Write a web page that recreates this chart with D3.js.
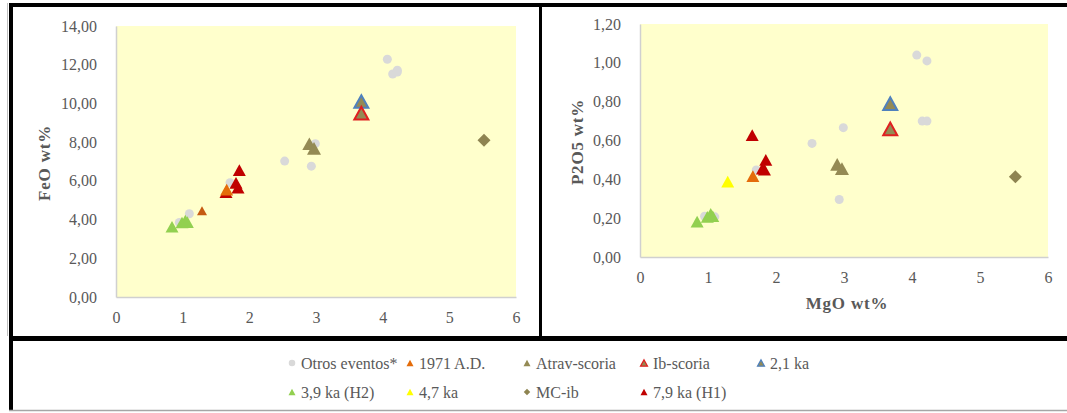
<!DOCTYPE html>
<html>
<head>
<meta charset="utf-8">
<script src="https://cdn.jsdelivr.net/npm/d3@7"></script>
<style>
  html, body { margin: 0; padding: 0; background: #fff; }
  svg { display: block; }
  text { font-family: "Liberation Serif", "Times New Roman", serif; }
</style>
</head>
<body>
<svg id="chart" width="1067" height="413"></svg>
<script>
// ---------------- DATA ----------------
const seriesNames = ["Otros eventos*", "1971 A.D.", "Atrav-scoria", "Ib-scoria", "2,1 ka",
                     "3,9 ka (H2)", "4,7 ka", "MC-ib", "7,9 ka (H1)"];

const otrosMgO  = [4.07, 4.22, 4.15, 4.22, 2.99, 2.53, 2.93, 1.71, 0.95, 1.10];
const otrosFeO  = [12.28, 11.72, 11.52, 11.62, 7.92, 7.02, 6.76, 5.90, 3.85, 4.30];
const otrosP2O5 = [1.04, 1.01, 0.70, 0.70, 0.666, 0.585, 0.296, 0.448, 0.21, 0.207];

const a1971MgO  = [1.66];
const a1971FeO  = [5.55];
const a1971P2O5 = [0.417];

const atravMgO  = [2.90, 2.97];
const atravFeO  = [7.92, 7.68];
const atravP2O5 = [0.477, 0.455];

const ibMgO  = [3.68];
const ibFeO  = [9.50];
const ibP2O5 = [0.66];

const ka21MgO  = [3.68];
const ka21FeO  = [10.10];
const ka21P2O5 = [0.79];

const ka39MgO  = [0.84, 0.99, 1.04, 1.07];
const ka39FeO  = [3.63, 3.85, 3.95, 3.87];
const ka39P2O5 = [0.182, 0.207, 0.222, 0.21];

const ka47MgO  = [1.29];
const ka47FeO  = [4.45];
const ka47P2O5 = [0.388];

const mcibMgO  = [5.52];
const mcibFeO  = [8.10];
const mcibP2O5 = [0.413];

const ka79MgO  = [1.65, 1.85, 1.80, 1.83];
const ka79FeO  = [5.42, 6.55, 5.90, 5.65];
const ka79P2O5 = [0.628, 0.50, 0.455, 0.45];

const feoTicks  = [0, 2, 4, 6, 8, 10, 12, 14];
const p2o5Ticks = [0, 0.2, 0.4, 0.6, 0.8, 1.0, 1.2];
const mgoTicks  = [0, 1, 2, 3, 4, 5, 6];

// ---------------- STYLES ----------------
const styles = {
  "Otros eventos*": {shape: "circle",  fill: "#D9D9D9", size: 9},
  "1971 A.D.":      {shape: "tri",     fill: "#E46C0A", size: 13},
  "Atrav-scoria":   {shape: "tri",     fill: "#948A54", size: 14},
  "Ib-scoria":      {shape: "tri",     fill: "#948A54", size: 14, stroke: "#E02020", sw: 2},
  "2,1 ka":         {shape: "tri",     fill: "#948A54", size: 14, stroke: "#4F81BD", sw: 2},
  "3,9 ka (H2)":    {shape: "tri",     fill: "#92D050", size: 13},
  "4,7 ka":         {shape: "tri",     fill: "#FFFF00", size: 13},
  "MC-ib":          {shape: "diamond", fill: "#8E8451", size: 13},
  "7,9 ka (H1)":    {shape: "tri",     fill: "#C00000", size: 13}
};
// the 4,7 ka marker is drawn smaller and darker orange in the FeO panel
const leftOverride = {"4,7 ka": {fill: "#C55A11", size: 10}};

const series = {
  "Otros eventos*": {x: otrosMgO, feo: otrosFeO, p: otrosP2O5},
  "1971 A.D.":      {x: a1971MgO, feo: a1971FeO, p: a1971P2O5},
  "Atrav-scoria":   {x: atravMgO, feo: atravFeO, p: atravP2O5},
  "Ib-scoria":      {x: ibMgO,    feo: ibFeO,    p: ibP2O5},
  "2,1 ka":         {x: ka21MgO,  feo: ka21FeO,  p: ka21P2O5},
  "3,9 ka (H2)":    {x: ka39MgO,  feo: ka39FeO,  p: ka39P2O5},
  "4,7 ka":         {x: ka47MgO,  feo: ka47FeO,  p: ka47P2O5},
  "MC-ib":          {x: mcibMgO,  feo: mcibFeO,  p: mcibP2O5},
  "7,9 ka (H1)":    {x: ka79MgO,  feo: ka79FeO,  p: ka79P2O5}
};
const drawOrder = ["Otros eventos*", "3,9 ka (H2)", "4,7 ka", "7,9 ka (H1)", "MC-ib",
                   "Atrav-scoria", "2,1 ka", "Ib-scoria", "1971 A.D."];

// ---------------- DRAW ----------------
const svg = d3.select("#chart");
const txtCol = "#595959";
const fmt = v => d3.format(".2f")(v).replace(".", ",");

function markerPath(shape, s) {
  const p = d3.path();
  if (shape === "tri") {
    const w = s, h = s * 0.9;
    p.moveTo(0, -h / 2); p.lineTo(w / 2, h / 2); p.lineTo(-w / 2, h / 2); p.closePath();
  } else if (shape === "diamond") {
    const r = s / 2;
    p.moveTo(0, -r); p.lineTo(r, 0); p.lineTo(0, r); p.lineTo(-r, 0); p.closePath();
  } else {
    p.arc(0, 0, s / 2, 0, 2 * Math.PI);
  }
  return p.toString();
}

function panel(cfg) {
  const x = d3.scaleLinear().domain([0, 6]).range([cfg.x0, cfg.x1]);
  const y = d3.scaleLinear().domain([0, cfg.ymax]).range([cfg.y0, cfg.y1]);
  const g = svg.append("g");
  g.append("rect").attr("x", cfg.x0).attr("y", cfg.y1)
    .attr("width", cfg.x1 - cfg.x0).attr("height", cfg.y0 - cfg.y1).attr("fill", "#FFFFCC");

  const ya = g.append("g").attr("transform", `translate(${cfg.x0},0)`)
    .call(d3.axisLeft(y).tickValues(cfg.yticks).tickFormat(fmt).tickSize(0).tickSizeOuter(0).tickPadding(19));
  const xa = g.append("g").attr("transform", `translate(0,${cfg.y0})`)
    .call(d3.axisBottom(x).tickValues(mgoTicks).tickFormat(d3.format("d")).tickSize(0).tickSizeOuter(0).tickPadding(15));
  [ya, xa].forEach(a => {
    a.select(".domain").attr("stroke", "#D0D0D0").attr("stroke-width", 1.5);
    a.selectAll("text").attr("fill", txtCol).style("font-size", "16px")
      .style("font-family", "'Liberation Serif', serif");
  });

  drawOrder.forEach(name => {
    const st = Object.assign({}, styles[name], (cfg.override || {})[name] || {});
    const s = series[name];
    const vals = s[cfg.key];
    const pts = s.x.map((mx, i) => [mx, vals[i]]);
    g.selectAll(null).data(pts).enter().append("path")
      .attr("transform", d => `translate(${x(d[0])},${y(d[1])})`)
      .attr("d", markerPath(st.shape, st.size))
      .attr("fill", st.fill)
      .attr("stroke", st.stroke || "none")
      .attr("stroke-width", st.sw || 0)
      .attr("stroke-linejoin", "miter");
  });

  g.append("text")
    .attr("transform", `translate(${cfg.tx},${cfg.ty}) rotate(-90)`)
    .attr("text-anchor", "middle").attr("dominant-baseline", "central")
    .attr("fill", txtCol).style("font-size", "17px").style("font-weight", "bold")
    .style("letter-spacing", "0.8px").text(cfg.ytitle);
  if (cfg.xtitle) {
    g.append("text").attr("x", cfg.xtx).attr("y", cfg.xty)
      .attr("text-anchor", "middle").attr("dominant-baseline", "central")
      .attr("fill", txtCol).style("font-size", "17px").style("font-weight", "bold")
      .style("letter-spacing", "0.8px").text(cfg.xtitle);
  }
}

panel({x0: 116, x1: 516, y0: 297, y1: 26, ymax: 14, yticks: feoTicks, key: "feo",
       ytitle: "FeO wt%", tx: 44, ty: 163, override: leftOverride});
panel({x0: 640, x1: 1048, y0: 257, y1: 24, ymax: 1.2, yticks: p2o5Ticks, key: "p",
       ytitle: "P2O5 wt%", tx: 577, ty: 142, xtitle: "MgO wt%", xtx: 847, xty: 303});

// ---------------- FRAME ----------------
const frame = svg.append("g").attr("fill", "#000");
frame.append("rect").attr("x", 9).attr("y", 3).attr("width", 1058).attr("height", 4);
frame.append("rect").attr("x", 9).attr("y", 3).attr("width", 4).attr("height", 408);
frame.append("rect").attr("x", 539).attr("y", 3).attr("width", 3).attr("height", 338);
frame.append("rect").attr("x", 9).attr("y", 336).attr("width", 1058).attr("height", 5);
svg.append("line").attr("x1", 9).attr("x2", 1067).attr("y1", 410.5).attr("y2", 410.5)
  .attr("stroke", "#A6A6A6").attr("stroke-width", 1.5);
svg.append("line").attr("x1", 7.5).attr("x2", 7.5).attr("y1", 3).attr("y2", 336)
  .attr("stroke", "#BFBFBF").attr("stroke-width", 1);

// ---------------- LEGEND ----------------
const legendCols = [292, 410, 527, 644, 761];
const legendRows = [363, 392];
const legendItems = seriesNames.map((n, i) => ({name: n, col: i < 5 ? i : i - 5, row: i < 5 ? 0 : 1}));
const lg = svg.append("g");
legendItems.forEach(it => {
  const st = styles[it.name];
  const cx = legendCols[it.col], cy = legendRows[it.row];
  const sz = st.shape === "circle" ? 6.5 : (st.shape === "diamond" ? 6.5 : 7);
  lg.append("path").attr("transform", `translate(${cx},${cy})`)
    .attr("d", markerPath(st.shape, sz)).attr("fill", st.fill)
    .attr("stroke", st.stroke || "none").attr("stroke-width", st.stroke ? 1.2 : 0);
  lg.append("text").attr("x", cx + 9).attr("y", cy).attr("dominant-baseline", "central")
    .attr("fill", txtCol).style("font-size", "16px").text(it.name);
});
</script>
</body>
</html>
